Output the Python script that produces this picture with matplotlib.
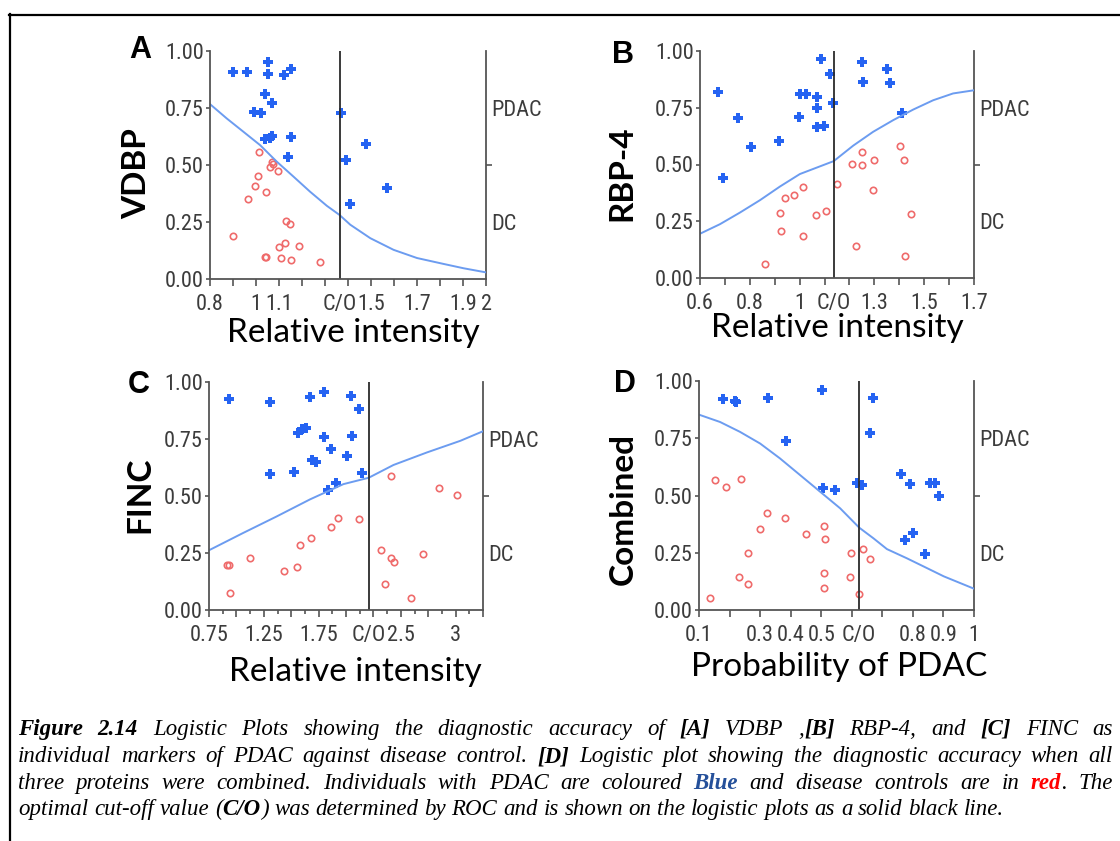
import matplotlib
matplotlib.use("Agg")
import matplotlib.pyplot as plt
from matplotlib import font_manager
from matplotlib.lines import Line2D

# narrow sans for the SPSS-style tick labels, if there is one
_names = {f.name for f in font_manager.fontManager.ttflist}
tick_font = next(n for n in ['Liberation Sans Narrow', 'Roboto Condensed', 'Liberation Sans', 'DejaVu Sans'] if n in _names)
tick_size = 16 if ('Narrow' in tick_font or 'Condensed' in tick_font) else 14
plt.rcParams['font.family'] = [tick_font, 'DejaVu Sans']

# ---- data ----
# A: VDBP
A_blue_x = [0.90, 0.96, 1.05, 1.05, 1.12, 1.15, 1.04, 1.07, 0.99, 1.02, 1.04, 1.06, 1.07, 1.15, 1.14, 1.37, 1.39, 1.48, 1.57, 1.41]
A_blue_y = [0.91, 0.91, 0.95, 0.90, 0.895, 0.92, 0.81, 0.774, 0.733, 0.727, 0.612, 0.617, 0.627, 0.622, 0.536, 0.729, 0.522, 0.592, 0.401, 0.331]
A_red_x = [1.012, 1.070, 1.073, 1.061, 1.095, 1.008, 0.994, 1.044, 0.967, 1.131, 1.147, 0.900, 1.127, 1.189, 1.099, 1.037, 1.044, 1.109, 1.151, 1.279]
A_red_y = [0.555, 0.513, 0.504, 0.490, 0.475, 0.453, 0.410, 0.383, 0.353, 0.254, 0.242, 0.187, 0.157, 0.146, 0.141, 0.096, 0.096, 0.090, 0.083, 0.076]
A_curve_x = [0.80, 0.873, 0.945, 1.018, 1.090, 1.163, 1.235, 1.308, 1.363, 1.410, 1.497, 1.598, 1.700, 1.816, 1.903, 2.0]
A_curve_y = [0.767, 0.704, 0.646, 0.587, 0.515, 0.449, 0.383, 0.321, 0.281, 0.238, 0.179, 0.128, 0.092, 0.066, 0.047, 0.029]
A_cutoff = 1.366

# B: RBP-4
B_blue_x = [0.674, 0.694, 0.754, 0.803, 0.916, 0.996, 1.002, 1.026, 1.068, 1.068, 1.071, 1.099, 1.087, 1.120, 1.133, 1.250, 1.254, 1.349, 1.361, 1.412]
B_blue_y = [0.820, 0.442, 0.704, 0.578, 0.603, 0.709, 0.810, 0.810, 0.796, 0.750, 0.663, 0.668, 0.966, 0.900, 0.770, 0.952, 0.865, 0.921, 0.861, 0.725]
B_red_x = [0.861, 0.922, 0.926, 0.942, 0.978, 1.013, 1.013, 1.065, 1.104, 1.149, 1.210, 1.228, 1.251, 1.251, 1.294, 1.297, 1.404, 1.418, 1.422, 1.449]
B_red_y = [0.060, 0.288, 0.208, 0.354, 0.365, 0.400, 0.187, 0.278, 0.293, 0.414, 0.504, 0.141, 0.555, 0.499, 0.388, 0.520, 0.580, 0.520, 0.095, 0.283]
B_curve_x = [0.60, 0.680, 0.760, 0.841, 0.921, 1.001, 1.137, 1.215, 1.295, 1.375, 1.456, 1.536, 1.616, 1.70]
B_curve_y = [0.195, 0.237, 0.288, 0.343, 0.403, 0.458, 0.515, 0.583, 0.644, 0.695, 0.742, 0.783, 0.813, 0.827]
B_cutoff = 1.137

# C: FINC
C_blue_x = [0.930, 1.311, 1.311, 1.521, 1.558, 1.598, 1.631, 1.674, 1.689, 1.726, 1.802, 1.802, 1.860, 1.838, 1.905, 2.009, 2.043, 2.058, 2.122, 2.143]
C_blue_y = [0.927, 0.911, 0.595, 0.605, 0.776, 0.793, 0.797, 0.936, 0.660, 0.649, 0.958, 0.757, 0.706, 0.525, 0.555, 0.676, 0.940, 0.761, 0.882, 0.601]
C_red_x = [0.915, 0.933, 0.942, 1.125, 1.433, 1.549, 1.582, 1.677, 1.866, 1.930, 2.116, 2.317, 2.354, 2.412, 2.412, 2.439, 2.594, 2.707, 2.848, 3.012]
C_red_y = [0.197, 0.197, 0.074, 0.227, 0.171, 0.187, 0.286, 0.316, 0.366, 0.402, 0.398, 0.261, 0.115, 0.587, 0.227, 0.211, 0.051, 0.246, 0.536, 0.503]
C_curve_x = [0.75, 1.058, 1.366, 1.671, 1.976, 2.207, 2.433, 2.738, 3.043, 3.25]
C_curve_y = [0.262, 0.337, 0.410, 0.485, 0.552, 0.580, 0.636, 0.691, 0.742, 0.784]
C_cutoff = 2.207

# D: Combined
D_blue_x = [0.179, 0.219, 0.222, 0.327, 0.384, 0.501, 0.506, 0.545, 0.618, 0.635, 0.659, 0.669, 0.762, 0.773, 0.792, 0.801, 0.839, 0.856, 0.872, 0.884]
D_blue_y = [0.923, 0.911, 0.907, 0.927, 0.737, 0.962, 0.533, 0.522, 0.556, 0.547, 0.772, 0.927, 0.592, 0.306, 0.549, 0.335, 0.245, 0.556, 0.553, 0.496]
D_red_x = [0.137, 0.152, 0.188, 0.230, 0.239, 0.261, 0.261, 0.300, 0.323, 0.382, 0.450, 0.508, 0.512, 0.508, 0.508, 0.593, 0.596, 0.622, 0.638, 0.660]
D_red_y = [0.052, 0.567, 0.538, 0.144, 0.573, 0.251, 0.112, 0.353, 0.422, 0.402, 0.332, 0.367, 0.308, 0.163, 0.097, 0.144, 0.251, 0.071, 0.267, 0.224]
D_curve_x = [0.10, 0.169, 0.234, 0.300, 0.365, 0.431, 0.496, 0.562, 0.624, 0.671, 0.715, 0.780, 0.846, 0.901, 1.0]
D_curve_y = [0.853, 0.821, 0.778, 0.727, 0.662, 0.589, 0.517, 0.444, 0.360, 0.313, 0.266, 0.226, 0.183, 0.147, 0.093]
D_cutoff = 0.624

A_xticks = [0.8, 0.9, 1.0, 1.1, 1.2, 1.3, 1.4, 1.5, 1.6, 1.7, 1.8, 1.9, 2.0]
A_xlabels = ['0.8', '', '1', '1.1', '', '', '', '1.5', '', '1.7', '', '1.9', '2']
B_xticks = [0.6, 0.7, 0.8, 0.9, 1.0, 1.1, 1.2, 1.3, 1.4, 1.5, 1.6, 1.7]
B_xlabels = ['0.6', '', '0.8', '', '1', '', '', '1.3', '', '1.5', '', '1.7']
C_xticks = [0.75, 1.0, 1.25, 1.5, 1.75, 2.0, 2.25, 2.5, 2.75, 3.0, 3.25]
C_xlabels = ['0.75', '', '1.25', '', '1.75', '', '', '2.5', '', '3', '']
C_xminor = [0.875, 1.125, 1.375, 1.625, 1.875, 2.125, 2.375, 2.625, 2.875, 3.125]
D_xticks = [0.1, 0.2, 0.3, 0.4, 0.5, 0.6, 0.7, 0.8, 0.9, 1.0]
D_xlabels = ['0.1', '', '0.3', '0.4', '0.5', '', '', '0.8', '0.9', '1']

y_ticks = [0.0, 0.25, 0.5, 0.75, 1.0]

W, H = 1120, 841
fig = plt.figure(figsize=(W / 100, H / 100), dpi=100)

blue = '#2563f2'
red = '#ef6b6b'
curve_c = '#6c9cf0'
spine_c = '#555555'
tick_c = '#3c3c3c'


def fx(x):
    return x / W


def fy(y):
    return 1 - y / H


def panel(box, letter, letter_xy, ylab, ylab_xy, xlab, xlab_xy,
          bx, by, rx, ry, cx, cy, cutoff, xticks, xlabels, xminor=None):
    l, t, r, b = box
    ax = fig.add_axes([fx(l), fy(b), (r - l) / W, (b - t) / H])
    ax.plot(rx, ry, 'o', mfc='none', mec=red, ms=4.6, mew=1.2, clip_on=False)
    ax.plot(bx, by, 'P', color=blue, ms=6.5, mew=0, clip_on=False)
    ax.plot(cx, cy, color=curve_c, lw=1.4)
    ax.axvline(cutoff, color='#2b2b2b', lw=1.3)
    ax.set_xlim(xticks[0], xticks[-1])
    ax.set_ylim(0, 1)
    ax.set_yticks(y_ticks)
    ax.set_yticklabels(['%.2f' % v for v in y_ticks])
    ax.set_xticks(xticks)
    ax.set_xticklabels(xlabels)
    if xminor:
        ax.set_xticks(xminor, minor=True)
    ax.spines['top'].set_visible(False)
    ax.spines['right'].set_visible(False)
    for s in ['left', 'bottom']:
        ax.spines[s].set_color(spine_c)
        ax.spines[s].set_linewidth(1.3)
    ax.tick_params(axis='y', length=3, width=1.2, color=spine_c, pad=1.5,
                   labelsize=tick_size, labelcolor=tick_c)
    ax.tick_params(axis='x', which='major', length=5, width=1.2, color=spine_c,
                   pad=5.5, labelsize=tick_size, labelcolor=tick_c)
    ax.tick_params(axis='x', which='minor', length=3, width=1.2, color=spine_c)
    ax.annotate('C/O', xy=(cutoff, 0), xycoords=('data', 'axes fraction'),
                xytext=(0, -10.5), textcoords='offset points', ha='center', va='top',
                fontsize=tick_size, color=tick_c)

    sec = ax.secondary_yaxis('right')
    sec.set_yticks([0.5])
    sec.set_yticklabels([''])
    sec.set_yticks([0.25, 0.75], labels=['DC', 'PDAC'], minor=True)
    sec.tick_params(which='major', length=4, width=1.2, color=spine_c)
    sec.tick_params(which='minor', length=0, pad=4, labelsize=tick_size, labelcolor=tick_c)
    sec.spines['right'].set_color(spine_c)
    sec.spines['right'].set_linewidth(1.3)

    fig.text(fx(letter_xy[0]), fy(letter_xy[1]), letter, ha='center', va='center',
             fontfamily='Liberation Sans', weight='bold', size=22)
    fig.text(fx(ylab_xy[0]), fy(ylab_xy[1]), ylab, rotation=90, ha='center', va='center',
             fontfamily='Lato', weight='bold', size=24)
    fig.text(fx(xlab_xy[0]), fy(xlab_xy[1]), xlab, ha='center', va='center',
             fontfamily='Lato', size=24)
    return ax


panel((210, 51, 486, 279), 'A', (140, 50), 'VDBP', (137, 174), 'Relative intensity', (353, 333),
      A_blue_x, A_blue_y, A_red_x, A_red_y, A_curve_x, A_curve_y, A_cutoff, A_xticks, A_xlabels)
panel((700, 51, 974, 278), 'B', (623, 55), 'RBP-4', (622, 173), 'Relative intensity', (837, 328),
      B_blue_x, B_blue_y, B_red_x, B_red_y, B_curve_x, B_curve_y, B_cutoff, B_xticks, B_xlabels)
panel((209, 382, 483, 610), 'C', (139, 385), 'FINC', (140, 495), 'Relative intensity', (355, 672),
      C_blue_x, C_blue_y, C_red_x, C_red_y, C_curve_x, C_curve_y, C_cutoff, C_xticks, C_xlabels, C_xminor)
panel((699, 381, 974, 610), 'D', (625, 384), 'Combined', (623, 509), 'Probability of PDAC', (839, 667),
      D_blue_x, D_blue_y, D_red_x, D_red_y, D_curve_x, D_curve_y, D_cutoff, D_xticks, D_xlabels)

# frame lines (top and left)
fig.add_artist(Line2D([fx(9), 1], [fy(14.5), fy(14.5)], transform=fig.transFigure, color='black', lw=1.6))
fig.add_artist(Line2D([fx(9.5), fx(9.5)], [fy(14), 0], transform=fig.transFigure, color='black', lw=1.6))

# ---- caption, justified word by word ----
cap_base = dict(fontfamily='Liberation Serif', style='italic', size=13, color='black')
cap_styles = {
    'n': {},
    'b': dict(weight='bold'),
    'blue': dict(weight='bold', color='#25509a'),
    'red': dict(weight='bold', color='#ff0000'),
}
caption = [
    [("Figure 2.14", 'b'), (" Logistic Plots showing the diagnostic accuracy of ", 'n'), ("[A]", 'b'),
     (" VDBP ,", 'n'), ("[B]", 'b'), (" RBP-4, and ", 'n'), ("[C]", 'b'), (" FINC as", 'n')],
    [("individual markers of PDAC against disease control. ", 'n'), ("[D]", 'b'),
     (" Logistic plot showing the diagnostic accuracy when all", 'n')],
    [("three proteins were combined. Individuals with PDAC are coloured ", 'n'), ("Blue", 'blue'),
     (" and disease controls are in ", 'n'), ("red", 'red'), (". The", 'n')],
    [("optimal cut-off value (", 'n'), ("C/O", 'b'),
     (") was determined by ROC and is shown on the logistic plots as a solid black line.", 'n')],
]
cap_baselines = [735, 762, 789, 815]
cap_left, cap_right = 18, 1113


def style_of(st):
    d = dict(cap_base)
    d.update(cap_styles[st])
    return d


def words_of(segs):
    words, cur = [], []
    for txt, st in segs:
        parts = txt.split(' ')
        for i, p in enumerate(parts):
            if i > 0 and cur:
                words.append(cur)
                cur = []
            if p:
                cur.append((p, st))
    if cur:
        words.append(cur)
    return words


renderer = fig.canvas.get_renderer()


def width_of(s, st):
    t = fig.text(0, 0, s, **style_of(st))
    w = t.get_window_extent(renderer).width
    t.remove()
    return w


def natural_width(segs):
    words = words_of(segs)
    sp = width_of('a a', 'n') - width_of('aa', 'n')
    return sum(width_of(p, st) for w in words for p, st in w) + sp * (len(words) - 1)


# the second line is set tight in the original: size the caption so it just fills the width
cap_base['size'] = min(16.5, 13 * (cap_right - cap_left) / natural_width(caption[1]))
space_w = width_of('a a', 'n') - width_of('aa', 'n')

for li, segs in enumerate(caption):
    words = words_of(segs)
    widths = [[width_of(p, st) for p, st in w] for w in words]
    total = sum(sum(ws) for ws in widths)
    if li < len(caption) - 1:
        gap = (cap_right - cap_left - total) / (len(words) - 1)
    else:
        gap = space_w
    x = cap_left
    for w, ws in zip(words, widths):
        for (p, st), pw in zip(w, ws):
            fig.text(fx(x), fy(cap_baselines[li]), p, va='baseline', ha='left', **style_of(st))
            x += pw
        x += gap

fig.savefig('out.png', dpi=100)
